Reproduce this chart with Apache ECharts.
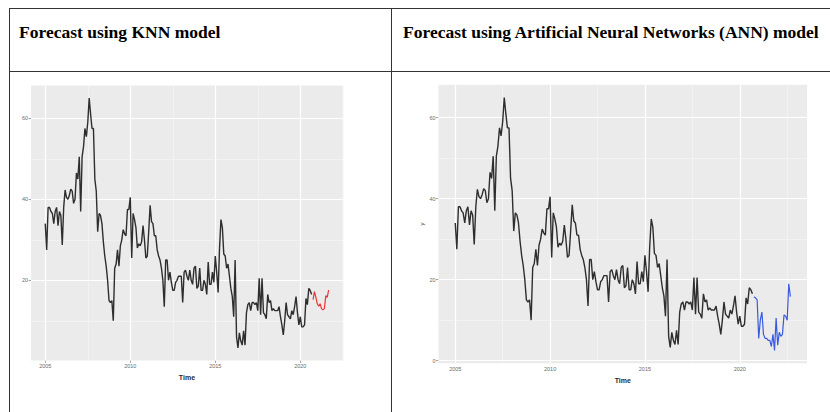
<!DOCTYPE html>
<html>
<head>
<meta charset="utf-8">
<script src="https://cdn.jsdelivr.net/npm/echarts@6/dist/echarts.min.js"></script>
<style>
  html, body { margin: 0; padding: 0; background: #fff; width: 830px; height: 412px; overflow: hidden; }
  #wrap { position: relative; width: 830px; height: 412px; }
  .rule { position: absolute; background: #333; }
  .head {
    position: absolute; white-space: nowrap; color: #000;
    font-family: "Liberation Serif", "Times New Roman", serif;
    font-weight: bold; font-size: 17.5px; line-height: 18px;
  }
  #chart { position: absolute; left: 0; top: 0; width: 830px; height: 412px; }
</style>
</head>
<body>
<div id="wrap">
  <div id="chart"></div>
  <!-- table rules -->
  <div class="rule" style="left:9px; top:8px; width:821px; height:1.3px;"></div>
  <div class="rule" style="left:9px; top:71px; width:821px; height:1.3px;"></div>
  <div class="rule" style="left:8.5px; top:8px; width:1.3px; height:404px;"></div>
  <div class="rule" style="left:391px; top:8px; width:1.3px; height:404px;"></div>
  <div class="head" style="left:19px; top:23px;">Forecast using KNN model</div>
  <div class="head" style="left:403px; top:23px;">Forecast using Artificial Neural Networks (ANN) model</div>
</div>
<script>
// Monthly series starting January 2005
const startYear = 2005;
const observed = [
  34, 27.5, 38, 38, 37, 36.5, 34, 37, 38, 33.5, 37, 36,
  28.7, 38, 42.3, 40.5, 40, 41, 42.5, 42, 39, 40, 46.5, 45,
  50.5, 37, 50.5, 53, 57.5, 55.5, 59, 65, 61, 57.5, 57.5, 45,
  42, 32, 36.5, 36, 34, 29.5, 26, 23.5, 20, 15, 14.5, 15,
  10, 23, 24, 27.5, 23.5, 28.5, 30, 32.5, 31.5, 31, 37.5, 37.5,
  40.5, 25.5, 36.5, 35, 33, 28, 29, 28.5, 29.5, 33.5, 30, 25.5,
  26, 32, 38.5, 34.5, 34, 31, 31, 27.5, 26, 25, 23, 20,
  13.5, 25, 25, 20, 22, 19.5, 17.5, 17.5, 19.5, 20, 21, 21,
  21, 14.5, 22, 22.5, 21, 20, 22.5, 20, 19, 23, 23.5, 18,
  18.5, 23, 17.5, 17.5, 20, 19, 16.5, 24.5, 19, 19, 22, 19.5,
  26, 22, 17, 28, 35, 33, 26.5, 26, 23, 24, 21, 18,
  16, 11, 25, 6, 3.3, 7, 5, 4, 7.5, 4, 12, 14,
  14.5, 12.5, 14.5, 14.5, 14, 14.5, 12.5, 20.5, 11.5, 20.5, 12, 11.5,
  10.5, 16.5, 14.5, 15, 12.5, 13, 12.5, 12.5, 12.5, 13.5, 11, 9,
  6.5, 10, 14.5, 11.5, 11, 10.5, 12.5, 11.5, 13.5, 16, 12, 9,
  11, 8.5, 8.5, 9, 15.5, 14, 18, 17.5, 16.5
];
// 12-month KNN forecast and 24-month ANN forecast, following the last observation
const knnForecast = [15.2, 17.2, 15.8, 14.2, 13.6, 14.2, 13, 12.7, 13, 16.2, 15.8, 17.6];
const annForecast = [15.8, 15.5, 15, 5.5, 10, 12, 6.5, 5.5, 5.5, 5, 5, 3.5,
                     6.5, 2.5, 10.5, 3.8, 7, 6, 6.5, 11.3, 11, 10, 19, 15.8];

const xMajor = [2005, 2010, 2015, 2020];
const xMinor = [2007.5, 2012.5, 2017.5, 2022.5];
const yMajor = [0, 20, 40, 60];
const yMinor = [10, 30, 50];

const toPoints = (vals, offset) => vals.map((v, i) => [startYear + (offset + i) / 12, v]);
const obsPts = toPoints(observed, 0);
const knnPts = toPoints(knnForecast, observed.length);
const annPts = toPoints(annForecast, observed.length);

// ggplot-style 5% expansion of the data range
function expand(vals) {
  const lo = Math.min(...vals), hi = Math.max(...vals), d = (hi - lo) * 0.05;
  return [lo - d, hi + d];
}
const leftX = expand([obsPts[0][0], knnPts[knnPts.length - 1][0]]);
const rightX = expand([obsPts[0][0], annPts[annPts.length - 1][0]]);
const leftY = expand(observed.concat(knnForecast));
const rightY = expand(observed.concat(annForecast));

const inRange = (arr, r) => arr.filter(v => v >= r[0] && v <= r[1]);
const plain = v => String(Math.round(v));
const FONT = 'Liberation Sans, Arial, sans-serif';

function xAxisFor(gi, r) {
  return {
    type: 'value', gridIndex: gi, min: r[0], max: r[1],
    axisLine: { show: false },
    axisTick: { show: true, length: 2.5, customValues: inRange(xMajor, r), lineStyle: { color: '#666', width: 0.6 } },
    axisLabel: { customValues: inRange(xMajor, r), formatter: plain, color: '#6a6a6a', fontSize: 5.5, margin: 3, fontFamily: FONT },
    splitLine: { show: false },
    name: 'Time', nameLocation: 'middle', nameGap: 9,
    nameTextStyle: { fontSize: 7, color: '#2a2a2a', fontWeight: 'bold', fontFamily: FONT }
  };
}
function yAxisFor(gi, r, title) {
  return {
    type: 'value', gridIndex: gi, min: r[0], max: r[1],
    axisLine: { show: false },
    axisTick: { show: true, length: 2.5, customValues: inRange(yMajor, r), lineStyle: { color: '#666', width: 0.6 } },
    axisLabel: { customValues: inRange(yMajor, r), formatter: plain, color: '#6a6a6a', fontSize: 5.5, margin: 3, fontFamily: FONT },
    splitLine: { show: false },
    name: title, nameLocation: 'middle', nameGap: 12, nameRotate: 90,
    nameTextStyle: { fontSize: 6, color: '#2a2a2a', fontFamily: FONT }
  };
}

// white panel grid lines, drawn beneath the data
function gridSeries(gi, xr, yr) {
  const major = inRange(xMajor, xr).map(v => ({ xAxis: v })).concat(inRange(yMajor, yr).map(v => ({ yAxis: v })));
  const minor = inRange(xMinor, xr).map(v => ({ xAxis: v })).concat(inRange(yMinor, yr).map(v => ({ yAxis: v })));
  const base = { type: 'line', xAxisIndex: gi, yAxisIndex: gi, data: [], silent: true, z: 1 };
  return [
    Object.assign({}, base, { markLine: { silent: true, symbol: 'none', label: { show: false }, animation: false,
      lineStyle: { color: '#f7f7f7', width: 0.6, type: 'solid' }, data: minor } }),
    Object.assign({}, base, { markLine: { silent: true, symbol: 'none', label: { show: false }, animation: false,
      lineStyle: { color: '#ffffff', width: 1.2, type: 'solid' }, data: major } })
  ];
}

function lineSeries(gi, pts, color, w) {
  return { type: 'line', xAxisIndex: gi, yAxisIndex: gi, data: pts, showSymbol: false, z: 5,
    lineStyle: { color: color, width: w }, itemStyle: { color: color }, animation: false };
}

const chart = echarts.init(document.getElementById('chart'), null, { renderer: 'svg' });
chart.setOption({
  animation: false,
  grid: [
    { left: 31.1, top: 85.6, width: 311.7, height: 274.8, show: true, backgroundColor: '#EBEBEB', borderWidth: 0 },
    { left: 438.5, top: 84.8, width: 368.6, height: 278.4, show: true, backgroundColor: '#EBEBEB', borderWidth: 0 }
  ],
  xAxis: [xAxisFor(0, leftX), xAxisFor(1, rightX)],
  yAxis: [yAxisFor(0, leftY, ''), yAxisFor(1, rightY, 'y')],
  series: [
    ...gridSeries(0, leftX, leftY),
    ...gridSeries(1, rightX, rightY),
    lineSeries(0, obsPts, '#2e2e2e', 1.4),
    lineSeries(0, knnPts, '#EE3535', 1.2),
    lineSeries(1, obsPts, '#2e2e2e', 1.4),
    lineSeries(1, annPts, '#3A5AE0', 1.2)
  ]
});
</script>
</body>
</html>
